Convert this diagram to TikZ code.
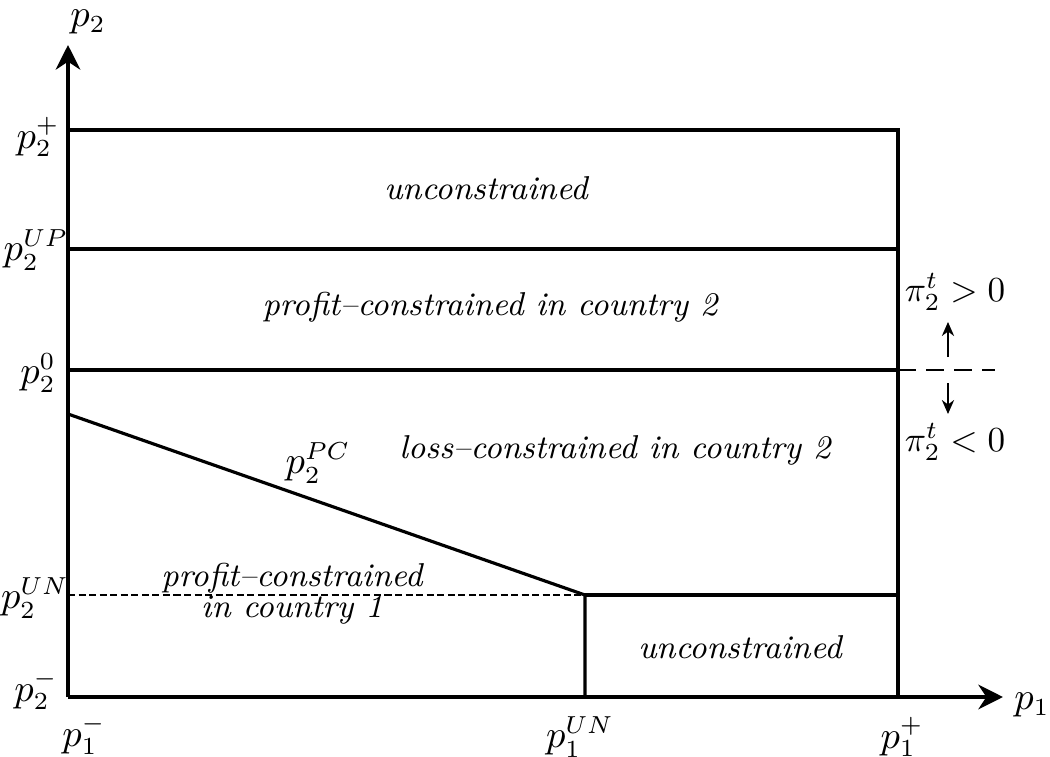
\documentclass[tikz,border=0pt]{standalone}
\usetikzlibrary{arrows.meta}
\begin{document}
\begin{tikzpicture}[x=0.01cm,y=-0.01cm,
  axis/.style={line width=1.2pt,-{Stealth[length=7pt,width=7pt]}},
  bnd/.style={line width=0.9pt},
  lbl/.style={font=\fontsize{10.5}{12}\selectfont,inner sep=1pt},
  reg/.style={font=\fontsize{9.4}{11}\selectfont\itshape,align=center,inner sep=1pt}]
\useasboundingbox (0,0) rectangle (1050,757);
% corners
\coordinate (O) at (68,697);
\coordinate (ytip) at (68,45);
\coordinate (xtip) at (1003,697);
\coordinate (Lp) at (68,130);
\coordinate (Rp) at (898,130);
\coordinate (Lup) at (68,249);
\coordinate (Rup) at (898,249);
\coordinate (L0) at (68,370);
\coordinate (R0) at (898,370);
\coordinate (D0) at (995,370);
\coordinate (Lpc) at (68,414);
\coordinate (K) at (585,595);
\coordinate (Lun) at (68,595);
\coordinate (Run) at (898,595);
\coordinate (Kb) at (585,697);
\coordinate (Rb) at (898,697);
\coordinate (au0) at (948,357);
\coordinate (au1) at (948,322);
\coordinate (ad0) at (948,383);
\coordinate (ad1) at (948,414);
% axes
\draw[axis] (O) -- (ytip);
\draw[axis] (O) -- (xtip);
% boundaries
\draw[bnd] (Lp) -- (Rp) -- (Rb);
\draw[bnd] (Lup) -- (Rup);
\draw[bnd] (L0) -- (R0);
\draw[dashed,dash pattern=on 5pt off 3pt,line width=0.6pt] (R0) -- (D0);
\draw[bnd] (Lpc) -- (K) -- (Kb);
\draw[bnd] (K) -- (Run);
\draw[dashed,dash pattern=on 2pt off 1pt,line width=0.3pt] (Lun) -- (K);
\draw[line width=0.4pt,-{Stealth[length=4pt,width=3.5pt]}] (au0) -- (au1);
\draw[line width=0.4pt,-{Stealth[length=4pt,width=3.5pt]}] (ad0) -- (ad1);
% axis labels
\node[lbl] (ly) at (88,22) {$p_2$};
\node[lbl] (lx) at (1032,705) {$p_1$};
\node[lbl] (l2p) at (38,137) {$p_2^{+}$};
\node[lbl] (l2up) at (36,250) {$p_2^{UP}$};
\node[lbl] (l20) at (38,373) {$p_2^{0}$};
\node[lbl] (l2un) at (35,598) {$p_2^{UN}$};
\node[lbl] (l2m) at (36,690) {$p_2^{-}$};
\node[lbl] (l1m) at (84,735) {$p_1^{-}$};
\node[lbl] (l1un) at (580,737) {$p_1^{UN}$};
\node[lbl] (l1p) at (902,737) {$p_1^{+}$};
\node[lbl,font=\fontsize{10}{12}\selectfont] (pipos) at (955,292) {$\pi_2^t > 0$};
\node[lbl,font=\fontsize{10}{12}\selectfont] (pineg) at (955,442) {$\pi_2^t < 0$};
\node[lbl] (pc) at (318,463) {$p_2^{PC}$};
% regions
\node[reg] (r1) at (486,188) {unconstrained};
\node[reg] (r2) at (490,307) {profit--constrained in country 2};
\node[reg] (r3) at (615,450) {loss--constrained in country 2};
\node[reg] (r4a) at (292,578) {profit--constrained};
\node[reg] (r4b) at (292,610) {in country 1};
\node[reg] (r5) at (740,647) {unconstrained};
\end{tikzpicture}
\end{document}
